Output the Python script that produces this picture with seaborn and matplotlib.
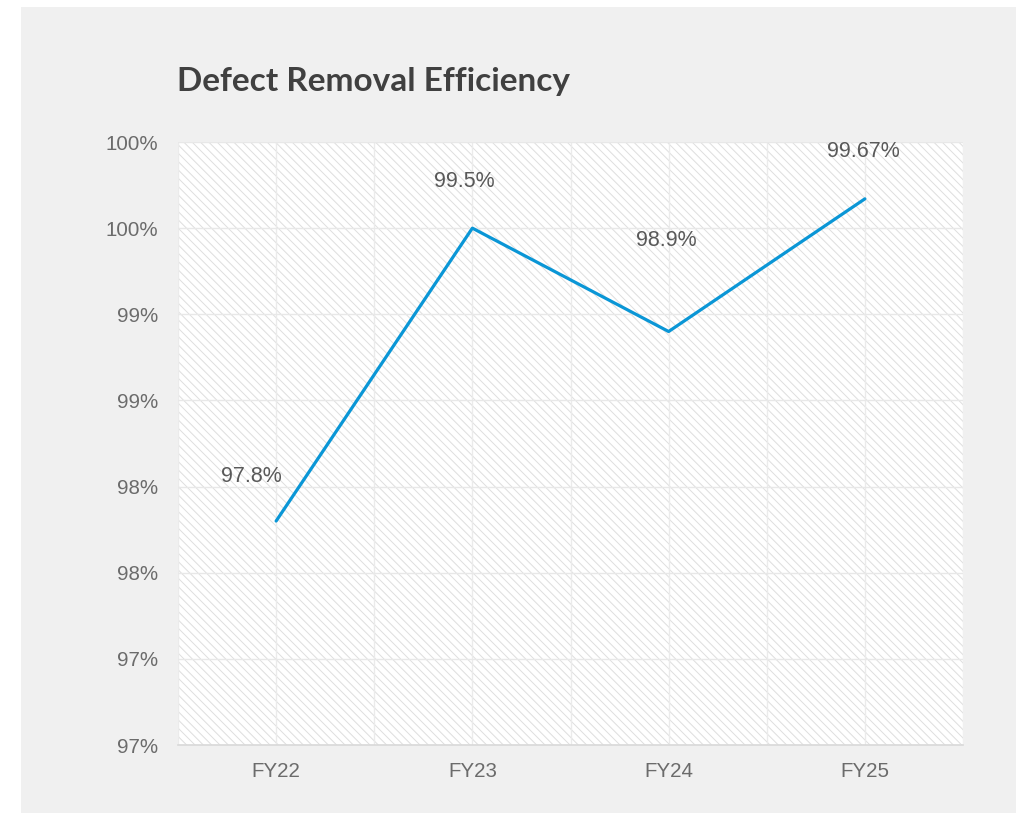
import numpy as np
import pandas as pd
import matplotlib
matplotlib.use("Agg")
import matplotlib.pyplot as plt
import seaborn as sns
from matplotlib.patches import Rectangle
from matplotlib.ticker import FuncFormatter, MultipleLocator

# data
years = ["FY22", "FY23", "FY24", "FY25"]
dre = [97.8, 99.5, 98.9, 99.67]
value_labels = ["97.8%", "99.5%", "98.9%", "99.67%"]

df = pd.DataFrame({"year": years, "dre": dre})

sns.set_style("white")
plt.rcParams["font.family"] = ["Liberation Sans", "DejaVu Sans"]
plt.rcParams["hatch.linewidth"] = 0.7

fig = plt.figure(figsize=(10.16, 8.13), dpi=100)
fig.patch.set_facecolor("white")
# grey card behind everything
card = Rectangle((21 / 1016, 0), 1, 1 - 7 / 813, transform=fig.transFigure,
                 facecolor="#f0f0f0", edgecolor="none", zorder=-10)
fig.add_artist(card)

ax = fig.add_axes([178 / 1016, 68 / 813, 785 / 1016, 603 / 813])
ax.set_facecolor("white")
ax.add_patch(Rectangle((0, 0), 1, 1, transform=ax.transAxes, facecolor="white",
                       edgecolor="#dedede", hatch="\\\\\\\\", linewidth=0, zorder=0))

sns.lineplot(data=df, x="year", y="dre", color="#0a96d6", linewidth=2.3, ax=ax,
             sort=False, zorder=3)

ax.set_xlim(-0.5, 3.5)
ax.set_ylim(96.5, 100.0)
ax.yaxis.set_major_locator(MultipleLocator(0.5))
ax.yaxis.set_major_formatter(FuncFormatter(lambda v, p: f"{int(np.floor(v + 0.5))}%"))
ax.set_xticks(np.arange(-0.5, 3.6, 0.5), minor=True)

ax.grid(True, axis="y", which="major", color="#e8e8e8", linewidth=1, zorder=1)
ax.grid(True, axis="x", which="both", color="#ebebeb", linewidth=1, zorder=1)
ax.set_axisbelow(True)

for s in ["top", "right", "left"]:
    ax.spines[s].set_visible(False)
ax.spines["bottom"].set_color("#d9d9d9")
ax.spines["bottom"].set_linewidth(1.2)

ax.tick_params(axis="both", which="both", length=0, labelsize=14.8, labelcolor="#6b6b6b")
ax.tick_params(axis="x", pad=12)
ax.tick_params(axis="y", pad=14)
ax.set_xlabel("")
ax.set_ylabel("")

# value labels (pixel offsets from each point)
offsets = [(-25, 45), (-8, 47), (-2, 91), (-1, 47)]
for i, (v, lab) in enumerate(zip(dre, value_labels)):
    ax.annotate(lab, (i, v), xytext=offsets[i], textcoords="offset pixels",
                ha="center", va="center", fontsize=15.5, color="#595959",
                annotation_clip=False, zorder=4)

fig.text(177 / 1016, 1 - 81 / 813, "Defect Removal Efficiency", fontsize=24,
         fontweight="bold", color="#404040", family=["Lato", "DejaVu Sans"],
         ha="left", va="center")

fig.savefig("out.png", dpi=100)
